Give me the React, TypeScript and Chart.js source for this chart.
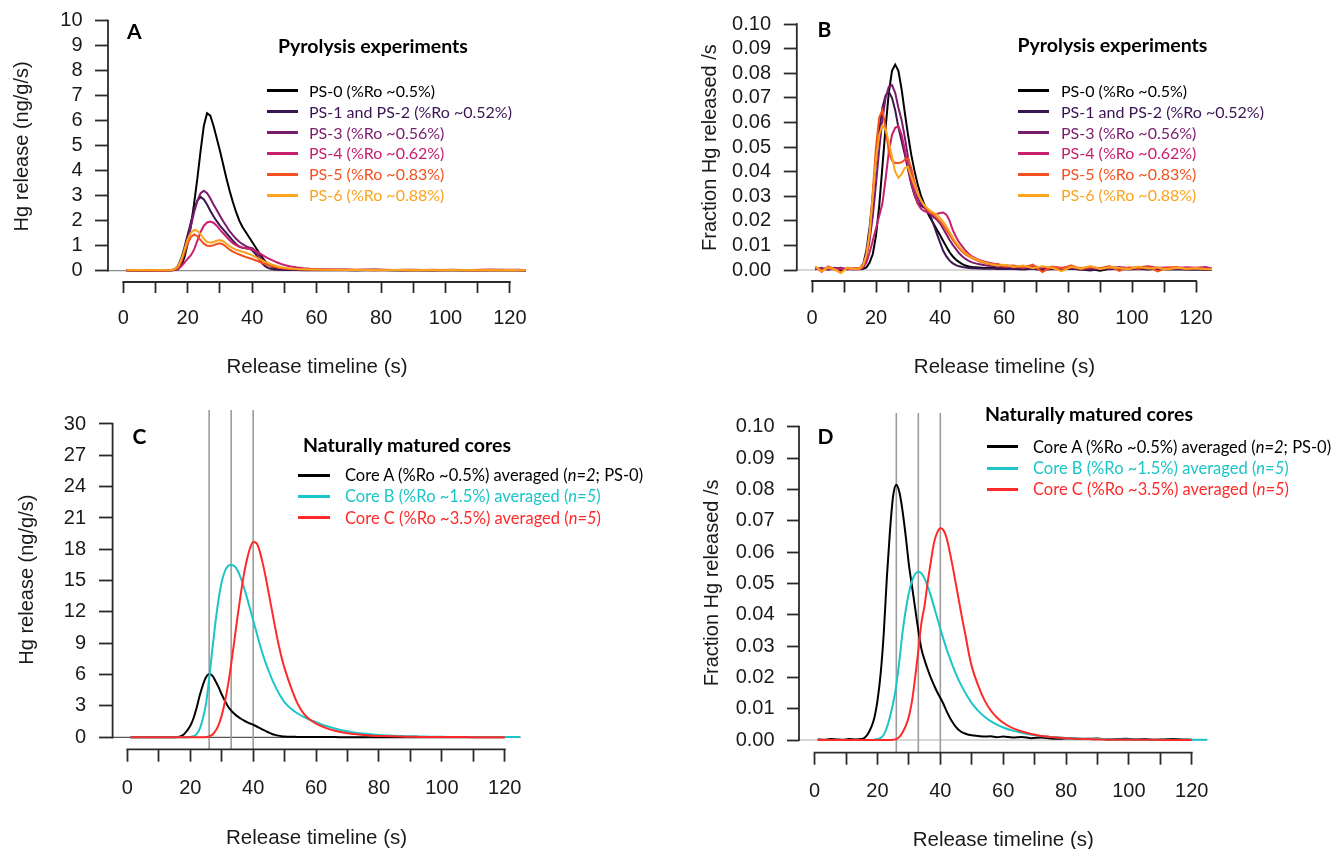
import React, { useEffect, useRef } from 'react';
import { Chart, registerables } from 'chart.js';

Chart.register(...registerables);

// ---------------- data ----------------
const timeS = [1, 3, 5, 7, 9, 11, 13,
  15, 16, 17, 18, 19, 20, 21, 22, 23, 24,
  25, 26, 27, 28, 29, 30, 31, 32, 33, 34,
  35, 36, 37, 38, 39, 40, 41, 42, 43, 44,
  45, 46, 47, 48, 49, 50,
  52, 54, 56, 58, 60,
  63, 66, 69, 72, 75, 78, 81, 84, 87, 90, 93,
  96, 99, 102, 105, 108, 111, 114, 117, 120, 123, 125];

const xTickValues = [0, 10, 20, 30, 40, 50, 60, 70, 80, 90, 100, 110, 120];
const aYTicks = [0, 1, 2, 3, 4, 5, 6, 7, 8, 9, 10];
const bYTicks = [0, 0.01, 0.02, 0.03, 0.04, 0.05, 0.06, 0.07, 0.08, 0.09, 0.1];
const cYTicks = [0, 3, 6, 9, 12, 15, 18, 21, 24, 27, 30];
const dYTicks = [0, 0.01, 0.02, 0.03, 0.04, 0.05, 0.06, 0.07, 0.08, 0.09, 0.1];
const peakLines = [26, 33, 40];

const psLabels = ['PS-0 (%Ro ~0.5%)', 'PS-1 and PS-2 (%Ro ~0.52%)', 'PS-3 (%Ro ~0.56%)',
  'PS-4 (%Ro ~0.62%)', 'PS-5 (%Ro ~0.83%)', 'PS-6 (%Ro ~0.88%)'];
const psColors = ['#000000', '#3b1552', '#7a1b6d', '#c8206e', '#f4511e', '#fba41c'];

const coreLabelPre = ['Core A (%Ro ~0.5%) averaged (', 'Core B (%Ro ~1.5%) averaged (', 'Core C (%Ro ~3.5%) averaged ('];
const coreLabelItalic = ['n=2', 'n=5', 'n=5'];
const coreLabelPost = ['; PS-0)', ')', ')'];
const coreColors = ['#000000', '#1cc5c8', '#fe2a2a'];

// Panel A: Hg release (ng/g/s)
const aPS0 = [0.01, 0.02, 0.01, 0.02, 0.01, 0.02, 0.01,
  0.02, 0.03, 0.06, 0.2, 0.55, 1.1, 1.8, 2.7, 3.7, 4.8,
  5.8, 6.3, 6.2, 5.8, 5.3, 4.8, 4.25, 3.7, 3.2, 2.75,
  2.35, 2.0, 1.75, 1.55, 1.35, 1.15, 0.95, 0.75, 0.55, 0.38,
  0.25, 0.16, 0.1, 0.07, 0.05, 0.04,
  0.04, 0.03, 0.03, 0.03, 0.04,
  0.03, 0.04, 0.03, 0.02, 0.03, 0.04, 0.03, 0.02, 0.03, 0.02, 0.03,
  0.02, 0.03, 0.02, 0.02, 0.03, 0.02, 0.02, 0.03, 0.02, 0.02, 0.01];
const aPS12 = [0.02, 0.01, 0.02, 0.01, 0.02, 0.01, 0.02,
  0.03, 0.06, 0.2, 0.5, 0.95, 1.45, 1.95, 2.45, 2.8, 2.95,
  2.85, 2.65, 2.4, 2.18, 1.98, 1.8, 1.65, 1.5, 1.35, 1.2,
  1.07, 0.97, 0.92, 0.9, 0.88, 0.82, 0.68, 0.48, 0.3, 0.18,
  0.11, 0.07, 0.05, 0.04, 0.04, 0.03,
  0.03, 0.03, 0.02, 0.03, 0.02,
  0.02, 0.03, 0.02, 0.02, 0.03, 0.02, 0.03, 0.02, 0.02, 0.03, 0.02,
  0.02, 0.03, 0.02, 0.03, 0.02, 0.02, 0.03, 0.02, 0.03, 0.02, 0.02];
const aPS3 = [0.01, 0.02, 0.01, 0.01, 0.02, 0.01, 0.02,
  0.02, 0.04, 0.12, 0.35, 0.75, 1.25, 1.8, 2.35, 2.8, 3.1,
  3.2, 3.1, 2.9, 2.65, 2.43, 2.2, 1.98, 1.78, 1.58, 1.42,
  1.28, 1.16, 1.06, 0.98, 0.93, 0.9, 0.8, 0.62, 0.46, 0.36,
  0.29, 0.23, 0.18, 0.14, 0.11, 0.09,
  0.07, 0.06, 0.05, 0.05, 0.04,
  0.04, 0.03, 0.04, 0.03, 0.03, 0.04, 0.03, 0.03, 0.02, 0.03, 0.03,
  0.02, 0.03, 0.03, 0.02, 0.03, 0.02, 0.03, 0.04, 0.03, 0.02, 0.02];
const aPS4 = [0.02, 0.01, 0.02, 0.02, 0.01, 0.02, 0.01,
  0.02, 0.03, 0.07, 0.18, 0.32, 0.48, 0.62, 0.85, 1.2, 1.55,
  1.8, 1.93, 1.97, 1.92, 1.8, 1.64, 1.5, 1.36, 1.22, 1.1,
  1.02, 0.96, 0.92, 0.9, 0.88, 0.84, 0.78, 0.72, 0.64, 0.56,
  0.49, 0.43, 0.37, 0.32, 0.27, 0.23,
  0.17, 0.13, 0.1, 0.08, 0.07,
  0.06, 0.05, 0.05, 0.04, 0.05, 0.04, 0.04, 0.03, 0.04, 0.04, 0.03,
  0.04, 0.03, 0.04, 0.03, 0.03, 0.04, 0.05, 0.03, 0.04, 0.04, 0.02];
const aPS5 = [0.02, 0.03, 0.02, 0.02, 0.03, 0.02, 0.02,
  0.03, 0.06, 0.13, 0.35, 0.72, 1.1, 1.35, 1.45, 1.38, 1.22,
  1.08, 1.0, 0.99, 1.02, 1.07, 1.1, 1.05, 0.95, 0.84, 0.76,
  0.7, 0.65, 0.6, 0.55, 0.51, 0.47, 0.42, 0.37, 0.32, 0.27,
  0.22, 0.18, 0.15, 0.12, 0.1, 0.09,
  0.07, 0.06, 0.05, 0.05, 0.04,
  0.04, 0.03, 0.04, 0.03, 0.03, 0.02, 0.03, 0.03, 0.02, 0.03, 0.02,
  0.03, 0.02, 0.03, 0.03, 0.02, 0.03, 0.02, 0.03, 0.02, 0.03, 0.02];
const aPS6 = [0.02, 0.02, 0.03, 0.02, 0.02, 0.03, 0.02,
  0.03, 0.07, 0.18, 0.45, 0.85, 1.25, 1.52, 1.63, 1.6, 1.45,
  1.28, 1.15, 1.12, 1.15, 1.2, 1.23, 1.18, 1.08, 0.98, 0.9,
  0.84, 0.8, 0.76, 0.72, 0.67, 0.61, 0.55, 0.48, 0.41, 0.35,
  0.3, 0.25, 0.21, 0.17, 0.14, 0.12,
  0.09, 0.07, 0.06, 0.05, 0.05,
  0.04, 0.04, 0.03, 0.04, 0.03, 0.03, 0.02, 0.03, 0.03, 0.02, 0.03,
  0.03, 0.02, 0.03, 0.02, 0.03, 0.02, 0.03, 0.02, 0.03, 0.02, 0.02];

// Panel B: fraction Hg released per second
const bPS0 = [0.0005, 0.0002, 0.0008, 0.0003, -0.0002, 0.0006, 0.0004,
  0.0003, 0.0005, 0.001, 0.003, 0.0065, 0.014, 0.026, 0.042, 0.058, 0.072,
  0.081, 0.0835, 0.081, 0.0735, 0.064, 0.055, 0.047, 0.0405, 0.035, 0.0305,
  0.027, 0.0235, 0.021, 0.0188, 0.0165, 0.0142, 0.0118, 0.0095, 0.0072, 0.0055,
  0.0042, 0.0032, 0.0024, 0.0018, 0.0014, 0.0012,
  0.001, 0.0008, 0.0009, 0.0007, 0.0008,
  0.0006, 0.0004, 0.0007, 0.0003, 0.0005, 0.0004, 0.0006, 0.0002, 0.0004, -0.0003, 0.0005,
  0.0003, 0.0004, 0.0006, 0.0002, 0.0005, 0.0003, 0.0004, 0.0002, 0.0003, 0.0001, 0.0002];
const bPS12 = [0.0003, 0.0008, 0.0001, 0.0005, 0.0009, 0.0002, 0.0006,
  0.0008, 0.0025, 0.008, 0.0175, 0.03, 0.044, 0.057, 0.066, 0.071, 0.0725,
  0.07, 0.065, 0.058, 0.0525, 0.047, 0.041, 0.035, 0.0305, 0.0275, 0.026,
  0.0255, 0.0245, 0.022, 0.0185, 0.0148, 0.0112, 0.0078, 0.0055, 0.0038, 0.0027,
  0.002, 0.0015, 0.0012, 0.001, 0.0008, 0.0007,
  0.0006, 0.0005, 0.0006, 0.0004, 0.0005,
  0.0004, 0.0002, 0.0005, -0.0001, 0.0004, 0.0003, 0.0005, 0.0002, -0.0002, 0.0004, 0.0003,
  0.0005, 0.0002, 0.0004, 0.0003, 0.0006, 0.0002, 0.0004, 0.0003, 0.0002, 0.0004, 0.0003];
const bPS3 = [0.0006, 0.0002, 0.0004, 0.0009, 0.0003, 0.0005, 0.0002,
  0.0005, 0.0015, 0.005, 0.012, 0.022, 0.035, 0.049, 0.061, 0.07, 0.0745,
  0.0752, 0.072, 0.066, 0.061, 0.054, 0.046, 0.039, 0.0335, 0.0295, 0.027,
  0.0255, 0.0242, 0.0228, 0.0215, 0.0205, 0.019, 0.0168, 0.0145, 0.0122, 0.0102,
  0.0085, 0.0068, 0.0055, 0.0045, 0.0037, 0.0031,
  0.0024, 0.0019, 0.0016, 0.0014, 0.0012,
  0.001, 0.0009, 0.0011, 0.0007, 0.0008, 0.0006, 0.0009, 0.0005, 0.0007, 0.0004, 0.0008,
  0.0006, 0.0005, 0.0009, 0.0004, 0.0007, 0.0005, 0.0006, 0.0004, 0.0005, 0.0003, 0.0004];
const bPS4 = [0.0008, 0.0003, 0.0006, 0.0002, 0.0007, 0.0004, 0.0003,
  0.0004, 0.001, 0.003, 0.007, 0.012, 0.017, 0.022, 0.027, 0.037, 0.048,
  0.055, 0.0578, 0.0585, 0.055, 0.049, 0.042, 0.036, 0.031, 0.027, 0.025,
  0.024, 0.0235, 0.023, 0.0228, 0.0228, 0.0232, 0.0234, 0.0225, 0.02, 0.0162,
  0.0135, 0.0112, 0.0095, 0.0078, 0.0065, 0.0055,
  0.0042, 0.0034, 0.0028, 0.0022, 0.0019,
  0.0016, 0.0013, 0.0015, 0.001, 0.0012, 0.0009, 0.0011, 0.0008, 0.001, 0.0007, 0.0009,
  0.0012, 0.0008, 0.0011, 0.0015, 0.0009, 0.001, 0.0008, 0.0011, 0.0009, 0.0012, 0.0006];
const bPS5 = [0.0012, -0.0008, 0.0015, 0.0004, -0.001, 0.0009, 0.0006,
  0.0008, 0.002, 0.006, 0.014, 0.032, 0.05, 0.062, 0.065, 0.058, 0.048,
  0.0445, 0.0435, 0.0435, 0.0438, 0.0448, 0.0455, 0.0415, 0.036, 0.0315, 0.0285,
  0.0262, 0.0245, 0.0235, 0.0225, 0.0212, 0.0198, 0.0182, 0.0163, 0.0142, 0.0122,
  0.0104, 0.0088, 0.0074, 0.0063, 0.0055, 0.0048,
  0.0036, 0.0028, 0.0021, 0.0025, 0.0014,
  0.0018, 0.0009, 0.0022, -0.0008, 0.0014, 0.0006, 0.0019, 0.0003, 0.0012, 0.0007, 0.0016,
  -0.0004, 0.0011, 0.0005, 0.0014, -0.0006, 0.0009, 0.0012, 0.0004, 0.0008, 0.0003, 0.0005];
const bPS6 = [0.0015, -0.0005, 0.001, 0.0003, -0.0012, 0.0008, 0.0004,
  0.0006, 0.002, 0.006, 0.015, 0.03, 0.045, 0.055, 0.0588, 0.057, 0.052,
  0.046, 0.04, 0.0375, 0.039, 0.0415, 0.042, 0.038, 0.0345, 0.031, 0.0285,
  0.0265, 0.0252, 0.024, 0.0232, 0.0225, 0.0212, 0.0196, 0.0178, 0.0155, 0.0132,
  0.0112, 0.0095, 0.008, 0.0068, 0.0059, 0.0051,
  0.004, 0.0031, 0.0024, 0.0017, 0.0021,
  0.0012, 0.0018, 0.0007, 0.0015, 0.0009, -0.0005, 0.0013, 0.0006, 0.0016, 0.0004, 0.0011,
  0.0008, 0.0003, 0.0014, 0.0006, 0.001, 0.0002, 0.0009, 0.0005, 0.0007, 0.0004, 0.0003];

// Panel C: Hg release (ng/g/s), naturally matured cores
const cCoreA = [0, 0, 0, 0, 0, 0, 0,
  0, 0.02, 0.1, 0.3, 0.65, 1.1, 1.8, 2.8, 4.0, 5.0,
  5.75, 6.05, 5.9, 5.4, 4.8, 4.1, 3.5, 2.95, 2.55, 2.25,
  2.0, 1.8, 1.62, 1.46, 1.32, 1.2, 1.06, 0.9, 0.74, 0.6,
  0.45, 0.32, 0.23, 0.16, 0.11, 0.08,
  0.05, 0.04, 0.03, 0.03, 0.02,
  0.02, 0.02, 0.01, 0.01, 0.01, 0.01, 0.01, 0.01, 0.01, 0.01, 0,
  0, 0, 0, 0, 0, 0, 0, 0, 0, null, null];
const cCoreB = [0, 0, 0, 0, 0, 0, 0,
  0, 0, 0, 0, 0.01, 0.03, 0.1, 0.3, 0.8, 1.8,
  3.2, 5.6, 8.4, 11.0, 13.2, 14.9, 15.9, 16.4, 16.5, 16.4,
  16.0, 15.3, 14.4, 13.4, 12.3, 11.2, 10.1, 9.0, 8.0, 7.1,
  6.3, 5.55, 4.9, 4.3, 3.8, 3.35,
  2.75, 2.3, 1.95, 1.68, 1.45,
  1.1, 0.85, 0.63, 0.47, 0.36, 0.27, 0.2, 0.16, 0.12, 0.1, 0.08,
  0.06, 0.05, 0.04, 0.04, 0.03, 0.03, 0.03, 0.02, 0.02, 0.02, 0.02];
const cCoreC = [0, 0, 0, 0, 0, 0, 0,
  0, 0, 0, 0, 0, 0, 0, 0, 0, 0,
  0.02, 0.08, 0.25, 0.6, 1.2, 2.1, 3.4, 5.0, 7.0, 9.2,
  11.5, 13.6, 15.5, 17.0, 18.1, 18.7, 18.6, 17.9, 16.7, 15.3,
  13.7, 12.1, 10.5, 9.0, 7.7, 6.6,
  4.8, 3.3, 2.3, 1.7, 1.3,
  0.9, 0.62, 0.43, 0.31, 0.22, 0.16, 0.12, 0.09, 0.07, 0.05, 0.04,
  0.03, 0.03, 0.02, 0.02, 0.02, 0.01, 0.01, 0.01, 0.01, null, null];

// Panel D: fraction Hg released per second, naturally matured cores
const dCoreA = [0.0002, 0.0001, 0.0003, 0.0002, 0.0001, 0.0003, 0.0002,
  0.0003, 0.0008, 0.002, 0.004, 0.007, 0.0125, 0.021, 0.034, 0.052, 0.067,
  0.078, 0.0815, 0.079, 0.073, 0.065, 0.056, 0.049, 0.042, 0.035, 0.029,
  0.0255, 0.0225, 0.0198, 0.0175, 0.0153, 0.0135, 0.0115, 0.0092, 0.0072, 0.0055,
  0.0041, 0.0031, 0.0024, 0.002, 0.0017, 0.0015,
  0.0013, 0.0011, 0.0012, 0.0009, 0.0011,
  0.0008, 0.001, 0.0006, 0.0008, 0.0005, 0.0004, 0.0006, 0.0003, 0.0004, 0.0005, 0.0002,
  0.0003, 0.0004, 0.0002, 0.0003, 0.0001, 0.0002, 0.0003, 0.0002, 0.0001, null, null];
const dCoreB = [0, 0, 0, 0, 0, 0, 0,
  0, 0, 0, 0, 0.0001, 0.0003, 0.0007, 0.0017, 0.004, 0.0075,
  0.0118, 0.0175, 0.0255, 0.0345, 0.0415, 0.047, 0.0508, 0.053, 0.0537, 0.0532,
  0.0515, 0.049, 0.046, 0.0425, 0.039, 0.0355, 0.0322, 0.029, 0.0262, 0.0235,
  0.021, 0.0188, 0.0168, 0.015, 0.0133, 0.0118,
  0.0094, 0.0075, 0.006, 0.0049, 0.004,
  0.003, 0.0023, 0.0017, 0.0013, 0.001, 0.0008, 0.0006, 0.0005, 0.0004, 0.0003, 0.0003,
  0.0002, 0.0002, 0.0002, 0.0001, 0.0001, 0.0001, 0.0001, 0.0001, 0.0001, 0.0001, 0.0001];
const dCoreC = [0, 0, 0, 0, 0, 0, 0,
  0, 0, 0, 0, 0, 0, 0, 0, 0, 0,
  0.0001, 0.0003, 0.001, 0.0025, 0.0045, 0.0075, 0.0125, 0.02, 0.0285, 0.0375,
  0.043, 0.0505, 0.057, 0.063, 0.0662, 0.0676, 0.067, 0.0645, 0.06, 0.055,
  0.0495, 0.044, 0.0385, 0.0335, 0.028, 0.0235,
  0.0175, 0.0128, 0.0095, 0.0072, 0.0055,
  0.0038, 0.0027, 0.0019, 0.0013, 0.001, 0.0007, 0.0005, 0.0004, 0.0003, 0.0002, 0.0002,
  0.0001, 0.0001, 0.0001, 0.0001, 0.0001, 0, 0, 0, 0, null, null];

// ---------------- styling helpers ----------------
const TICK_FONT = '"Liberation Sans", Arial, Helvetica, sans-serif';
const LEGEND_FONT = 'Lato, "Open Sans", sans-serif';
const AXIS_COLOR = '#2a2a2a';

function makeAxesPlugin(p: any) {
  return {
    id: 'rStyleAxes',
    beforeDatasetsDraw(chart: any) {
      const { ctx, chartArea } = chart;
      const xs = chart.scales.x;
      const ys = chart.scales.y;
      ctx.save();
      const y0 = ys.getPixelForValue(0);
      ctx.strokeStyle = p.baseColor;
      ctx.lineWidth = 1.3;
      ctx.beginPath();
      ctx.moveTo(chartArea.left, y0);
      ctx.lineTo(chartArea.right, y0);
      ctx.stroke();
      (p.vlines || []).forEach((v: number) => {
        const px = xs.getPixelForValue(v);
        ctx.strokeStyle = '#9c9c9c';
        ctx.lineWidth = 1.6;
        ctx.beginPath();
        ctx.moveTo(px, chartArea.top);
        ctx.lineTo(px, chartArea.bottom);
        ctx.stroke();
      });
      ctx.restore();
    },
    afterDraw(chart: any) {
      const { ctx, chartArea } = chart;
      const xs = chart.scales.x;
      const ys = chart.scales.y;
      ctx.save();
      ctx.strokeStyle = AXIS_COLOR;
      ctx.lineWidth = 1.8;
      ctx.beginPath();
      ctx.moveTo(xs.getPixelForValue(xTickValues[0]) - 0.9, chartArea.bottom);
      ctx.lineTo(xs.getPixelForValue(xTickValues[xTickValues.length - 1]) + 0.9, chartArea.bottom);
      ctx.stroke();
      ctx.beginPath();
      ctx.moveTo(chartArea.left, ys.getPixelForValue(p.yTicks[0]) + 0.9);
      ctx.lineTo(chartArea.left, ys.getPixelForValue(p.yTicks[p.yTicks.length - 1]) - 0.9);
      ctx.stroke();
      ctx.restore();
    },
  };
}

function Panel({ p }: { p: any }) {
  const ref = useRef<HTMLCanvasElement>(null);
  useEffect(() => {
    const canvas = ref.current;
    if (!canvas) return;
    const n = p.series.length;
    const chart = new Chart(canvas, {
      type: 'line',
      data: {
        datasets: p.series.map((s: any, i: number) => ({
          label: s.label,
          data: timeS.map((t, k) => ({ x: t, y: s.values[k] })),
          borderColor: s.color,
          backgroundColor: s.color,
          borderWidth: 2,
          pointRadius: 0,
          fill: false,
          tension: p.smooth ? 0.4 : 0,
          cubicInterpolationMode: p.smooth ? 'monotone' : 'default',
          order: n - i,
        })),
      },
      options: {
        animation: false,
        responsive: false,
        events: [],
        layout: { padding: { left: 0, top: p.padTop, right: p.padRight, bottom: 0 } },
        plugins: {
          legend: { display: false },
          tooltip: { enabled: false },
          title: { display: false },
        },
        scales: {
          x: {
            type: 'linear',
            position: 'bottom',
            min: p.xMin,
            max: p.xMax,
            afterBuildTicks: (s: any) => { s.ticks = xTickValues.map((v) => ({ value: v })); },
            afterFit: (s: any) => { s.height = p.xHeight; s.paddingLeft = 0; s.paddingRight = 0; },
            ticks: {
              autoSkip: false, maxRotation: 0, minRotation: 0,
              padding: p.xTickPad, color: '#1a1a1a',
              font: { family: TICK_FONT, size: 20 },
              callback: (v: any) => (Number(v) % 20 === 0 ? String(v) : ''),
            },
            grid: {
              display: true, drawOnChartArea: false, drawTicks: true,
              tickLength: p.xTickLen, tickWidth: 1.8, tickColor: AXIS_COLOR, color: AXIS_COLOR,
            },
            border: { display: false },
            title: {
              display: true, text: 'Release timeline (s)', color: '#1a1a1a',
              font: { family: TICK_FONT, size: 20.5 },
              padding: { top: 0, bottom: p.xTitlePad },
            },
          },
          y: {
            type: 'linear',
            position: 'left',
            min: p.yMin,
            max: p.yMax,
            afterBuildTicks: (s: any) => { s.ticks = p.yTicks.map((v: number) => ({ value: v })); },
            afterFit: (s: any) => { s.width = p.yWidth; s.paddingTop = 0; s.paddingBottom = 0; },
            ticks: {
              autoSkip: false,
              padding: p.yTickPad, color: '#1a1a1a',
              font: { family: TICK_FONT, size: 20 },
              callback: (v: any) => Number(v).toFixed(p.yDecimals),
            },
            grid: {
              display: true, drawOnChartArea: false, drawTicks: true,
              tickLength: p.yTickLen, tickWidth: 1.8, tickColor: AXIS_COLOR, color: AXIS_COLOR,
            },
            border: { display: false },
            title: {
              display: true, text: p.yTitle, color: '#1a1a1a',
              font: { family: TICK_FONT, size: 20 },
              padding: { top: p.yTitlePad, bottom: 0 },
            },
          },
        },
      },
      plugins: [makeAxesPlugin(p)],
    } as any);
    return () => chart.destroy();
  }, []);

  const ox = p.left;
  const oy = p.top;
  const lh = 20;
  return (
    <div style={{ position: 'absolute', left: ox, top: oy, width: p.width, height: p.height, overflow: 'hidden' }}>
      <canvas ref={ref} width={p.width} height={p.height}
        style={{ position: 'absolute', left: 0, top: 0, width: p.width, height: p.height }} />
      <div style={{
        position: 'absolute', left: p.letter.x - ox, top: p.letter.y - oy - 13, height: 26, lineHeight: '26px',
        fontFamily: LEGEND_FONT, fontWeight: 700, fontSize: 21, color: '#000', whiteSpace: 'nowrap',
      }}>{p.letter.text}</div>
      <div style={{
        position: 'absolute', left: p.heading.x - ox, top: p.heading.y - oy - 12, height: 24, lineHeight: '24px',
        fontFamily: LEGEND_FONT, fontWeight: 700, fontSize: 19.5, color: '#000', whiteSpace: 'nowrap',
      }}>{p.heading.text}</div>
      {p.series.map((s: any, i: number) => {
        const cy = p.legend.y0 + i * p.legend.dy - oy;
        return (
          <React.Fragment key={i}>
            <div style={{
              position: 'absolute', left: p.legend.lineX - ox, top: cy - 1.5,
              width: p.legend.lineW, height: 3, background: s.color,
            }} />
            <div style={{
              position: 'absolute', left: p.legend.textX - ox, top: cy - lh / 2, height: lh, lineHeight: lh + 'px',
              fontFamily: LEGEND_FONT, fontSize: p.legend.fontSize, color: s.color, whiteSpace: 'nowrap',
            }}>
              {s.pre !== undefined
                ? (<>{s.pre}<i>{s.ital}</i>{s.post}</>)
                : s.label}
            </div>
          </React.Fragment>
        );
      })}
    </div>
  );
}

const panelA = {
  left: 0, top: 0, width: 667, height: 400,
  padTop: 10.7, padRight: 141, yWidth: 108, xHeight: 118,
  yMin: -0.452, yMax: 10.4, yTicks: aYTicks, yDecimals: 0,
  xMin: -4.75, xMax: 125,
  yTickLen: 13, yTickPad: 12.4, xTickLen: 11, xTickPad: 13,
  yTitle: 'Hg release (ng/g/s)', yTitlePad: 10, xTitlePad: 20,
  baseColor: '#8a8a8a', vlines: [], smooth: false,
  letter: { text: 'A', x: 127, y: 31 },
  heading: { text: 'Pyrolysis experiments', x: 278, y: 46 },
  legend: { lineX: 267, lineW: 31, textX: 309, y0: 90.7, dy: 20.9, fontSize: 16 },
  series: psLabels.map((l, i) => ({ label: l, color: psColors[i], values: [aPS0, aPS12, aPS3, aPS4, aPS5, aPS6][i] })),
};

const panelB = {
  left: 667, top: 0, width: 668, height: 400,
  padTop: 14.2, padRight: 123, yWidth: 129.8, xHeight: 119,
  yMin: -0.00447, yMax: 0.104, yTicks: bYTicks, yDecimals: 2,
  xMin: -4.75, xMax: 125,
  yTickLen: 13, yTickPad: 12.8, xTickLen: 11.5, xTickPad: 13.5,
  yTitle: 'Fraction Hg released /s', yTitlePad: 31.7, xTitlePad: 20,
  baseColor: '#c8c8c8', vlines: [], smooth: false,
  letter: { text: 'B', x: 817.5, y: 29 },
  heading: { text: 'Pyrolysis experiments', x: 1017.5, y: 45 },
  legend: { lineX: 1018, lineW: 31, textX: 1061, y0: 90.7, dy: 20.9, fontSize: 16 },
  series: psLabels.map((l, i) => ({ label: l, color: psColors[i], values: [bPS0, bPS12, bPS3, bPS4, bPS5, bPS6][i] })),
};

const panelC = {
  left: 0, top: 400, width: 667, height: 449,
  padTop: 10, padRight: 146.5, yWidth: 112.6, xHeight: 99.7,
  yMin: -1.149, yMax: 31.34, yTicks: cYTicks, yDecimals: 0,
  xMin: -4.7, xMax: 125,
  yTickLen: 13.6, yTickPad: 13, xTickLen: 12.4, xTickPad: 14.3,
  yTitle: 'Hg release (ng/g/s)', yTitlePad: 15.5, xTitlePad: -2,
  baseColor: '#555555', vlines: peakLines, smooth: true,
  letter: { text: 'C', x: 132.6, y: 436 },
  heading: { text: 'Naturally matured cores', x: 303, y: 445 },
  legend: { lineX: 298, lineW: 32, textX: 345, y0: 475, dy: 21.4, fontSize: 16.5 },
  series: coreLabelPre.map((l, i) => ({
    label: l + coreLabelItalic[i] + coreLabelPost[i], pre: l, ital: coreLabelItalic[i], post: coreLabelPost[i],
    color: coreColors[i], values: [cCoreA, cCoreB, cCoreC][i],
  })),
};

const panelD = {
  left: 667, top: 400, width: 668, height: 449,
  padTop: 13, padRight: 127.5, yWidth: 132, xHeight: 96.3,
  yMin: -0.00405, yMax: 0.10437, yTicks: dYTicks, yDecimals: 2,
  xMin: -4.96, xMax: 125,
  yTickLen: 12, yTickPad: 12.4, xTickLen: 12, xTickPad: 15,
  yTitle: 'Fraction Hg released /s', yTitlePad: 33, xTitlePad: -4,
  baseColor: '#c8c8c8', vlines: peakLines, smooth: true,
  letter: { text: 'D', x: 817.5, y: 436 },
  heading: { text: 'Naturally matured cores', x: 985, y: 414 },
  legend: { lineX: 986.7, lineW: 31, textX: 1033, y0: 446.7, dy: 21.3, fontSize: 16.5 },
  series: coreLabelPre.map((l, i) => ({
    label: l + coreLabelItalic[i] + coreLabelPost[i], pre: l, ital: coreLabelItalic[i], post: coreLabelPost[i],
    color: coreColors[i], values: [dCoreA, dCoreB, dCoreC][i],
  })),
};

export default function App() {
  return (
    <div style={{ position: 'fixed', left: 0, top: 0, width: 1335, height: 849, background: '#ffffff', overflow: 'hidden' }}>
      <Panel p={panelA} />
      <Panel p={panelB} />
      <Panel p={panelC} />
      <Panel p={panelD} />
    </div>
  );
}
